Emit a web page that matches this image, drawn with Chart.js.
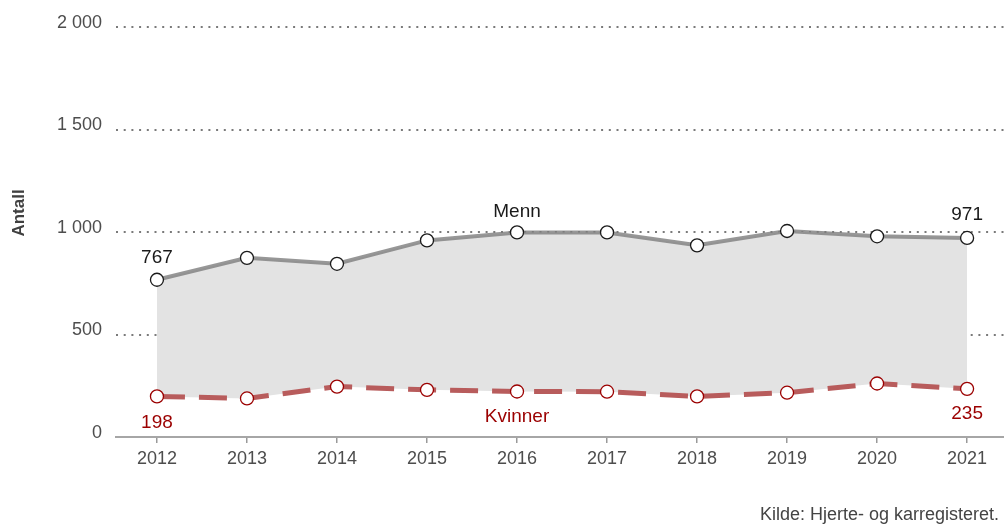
<!DOCTYPE html>
<html>
<head>
<meta charset="utf-8">
<script src="https://cdn.jsdelivr.net/npm/chart.js@4"></script>
<style>
  body { margin: 0; background: #fff; }
  #wrap { width: 1004px; height: 525px; }
</style>
</head>
<body>
<div id="wrap"><canvas id="chart" width="1004" height="525"></canvas></div>
<script>
const years = [2012, 2013, 2014, 2015, 2016, 2017, 2018, 2019, 2020, 2021];
const menn = [767, 874, 845, 959, 998, 998, 935, 1005, 979, 971];
const kvinner = [198, 188, 246, 230, 222, 221, 198, 216, 261, 235];
const yTicks = [0, 500, 1000, 1500, 2000];

const FONT = "'Liberation Sans', Arial, sans-serif";

function fmt(v) {
    if (v >= 1000) {
        return Math.floor(v / 1000) + ' ' + String(v % 1000).padStart(3, '0');
    }
    return String(v);
}

// text labels on the lines, source and axis title
const labelPlugin = {
    id: 'labels',
    afterDatasetsDraw(chart) {
        const ctx = chart.ctx;
        const x = chart.scales.x;
        const y = chart.scales.y;
        ctx.save();
        ctx.textAlign = 'center';
        ctx.textBaseline = 'middle';
        ctx.font = '19px ' + FONT;

        ctx.fillStyle = '#1a1a1a';
        ctx.fillText(String(menn[0]), x.getPixelForValue(years[0]), y.getPixelForValue(menn[0]) - 22);
        ctx.fillText(String(menn[9]), x.getPixelForValue(years[9]), y.getPixelForValue(menn[9]) - 23);
        ctx.fillText('Menn', x.getPixelForValue(years[4]), y.getPixelForValue(menn[4]) - 21);

        ctx.fillStyle = '#9b0000';
        ctx.fillText(String(kvinner[0]), x.getPixelForValue(years[0]), y.getPixelForValue(kvinner[0]) + 26);
        ctx.fillText(String(kvinner[9]), x.getPixelForValue(years[9]), y.getPixelForValue(kvinner[9]) + 25);
        ctx.fillText('Kvinner', x.getPixelForValue(years[4]), y.getPixelForValue(kvinner[4]) + 25);

        // source
        ctx.textAlign = 'left';
        ctx.textBaseline = 'alphabetic';
        ctx.font = '18px ' + FONT;
        ctx.fillStyle = '#444';
        ctx.fillText('Kilde: Hjerte- og karregisteret.', 760, 520);

        // y title
        ctx.translate(19, 213);
        ctx.rotate(-Math.PI / 2);
        ctx.textAlign = 'center';
        ctx.textBaseline = 'middle';
        ctx.font = 'bold 17px ' + FONT;
        ctx.fillStyle = '#404040';
        ctx.fillText('Antall', 0, 0);
        ctx.restore();
    }
};

new Chart(document.getElementById('chart'), {
    type: 'line',
    data: {
        datasets: [{
            label: 'Menn',
            data: years.map((yr, i) => ({ x: yr, y: menn[i] })),
            borderColor: 'rgba(125,125,125,0.8)',
            borderWidth: 4,
            backgroundColor: '#e3e3e3',
            fill: '+1',
            tension: 0,
            pointRadius: 6.5,
            pointBackgroundColor: '#fff',
            pointBorderColor: '#1a1a1a',
            pointBorderWidth: 1.3
        }, {
            label: 'Kvinner',
            data: years.map((yr, i) => ({ x: yr, y: kvinner[i] })),
            borderColor: '#b85c5c',
            borderWidth: 5,
            borderDash: [28, 14],
            fill: false,
            tension: 0,
            pointRadius: 6.5,
            pointBackgroundColor: '#fff',
            pointBorderColor: '#9b0000',
            pointBorderWidth: 1.3
        }]
    },
    options: {
        responsive: false,
        animation: false,
        layout: {
            autoPadding: false,
            padding: { top: 27, right: 0, left: 0, bottom: 0 }
        },
        plugins: {
            legend: { display: false },
            tooltip: { enabled: false },
            filler: { drawTime: 'beforeDatasetsDraw' }
        },
        scales: {
            x: {
                type: 'linear',
                min: 2011.545,
                max: 2021.41,
                afterFit(scale) {
                    scale.height = 88;
                    scale.paddingLeft = 0;
                    scale.paddingRight = 0;
                },
                border: { display: true, color: '#a6a6a6', width: 2 },
                grid: {
                    drawOnChartArea: false,
                    drawTicks: true,
                    tickLength: 6,
                    color: '#999',
                    lineWidth: 1.5
                },
                ticks: {
                    stepSize: 1,
                    includeBounds: false,
                    autoSkip: false,
                    maxRotation: 0,
                    padding: 5,
                    color: '#4d4d4d',
                    font: { family: FONT, size: 18 },
                    callback: v => String(v)
                }
            },
            y: {
                min: 0,
                max: 2000,
                afterFit(scale) {
                    scale.width = 116;
                    scale.paddingTop = 0;
                    scale.paddingBottom = 0;
                },
                afterBuildTicks(scale) { scale.ticks = yTicks.map(v => ({ value: v })); },
                border: { display: false, dash: [2, 5.7] },
                grid: {
                    drawTicks: false,
                    color: c => (c.tick && c.tick.value === 0) ? 'rgba(0,0,0,0)' : '#7a7a7a',
                    lineWidth: 2
                },
                ticks: {
                    padding: 14,
                    labelOffset: -4,
                    color: '#4d4d4d',
                    font: { family: FONT, size: 18 },
                    callback: v => fmt(v)
                }
            }
        }
    },
    plugins: [labelPlugin]
});
</script>
</body>
</html>
